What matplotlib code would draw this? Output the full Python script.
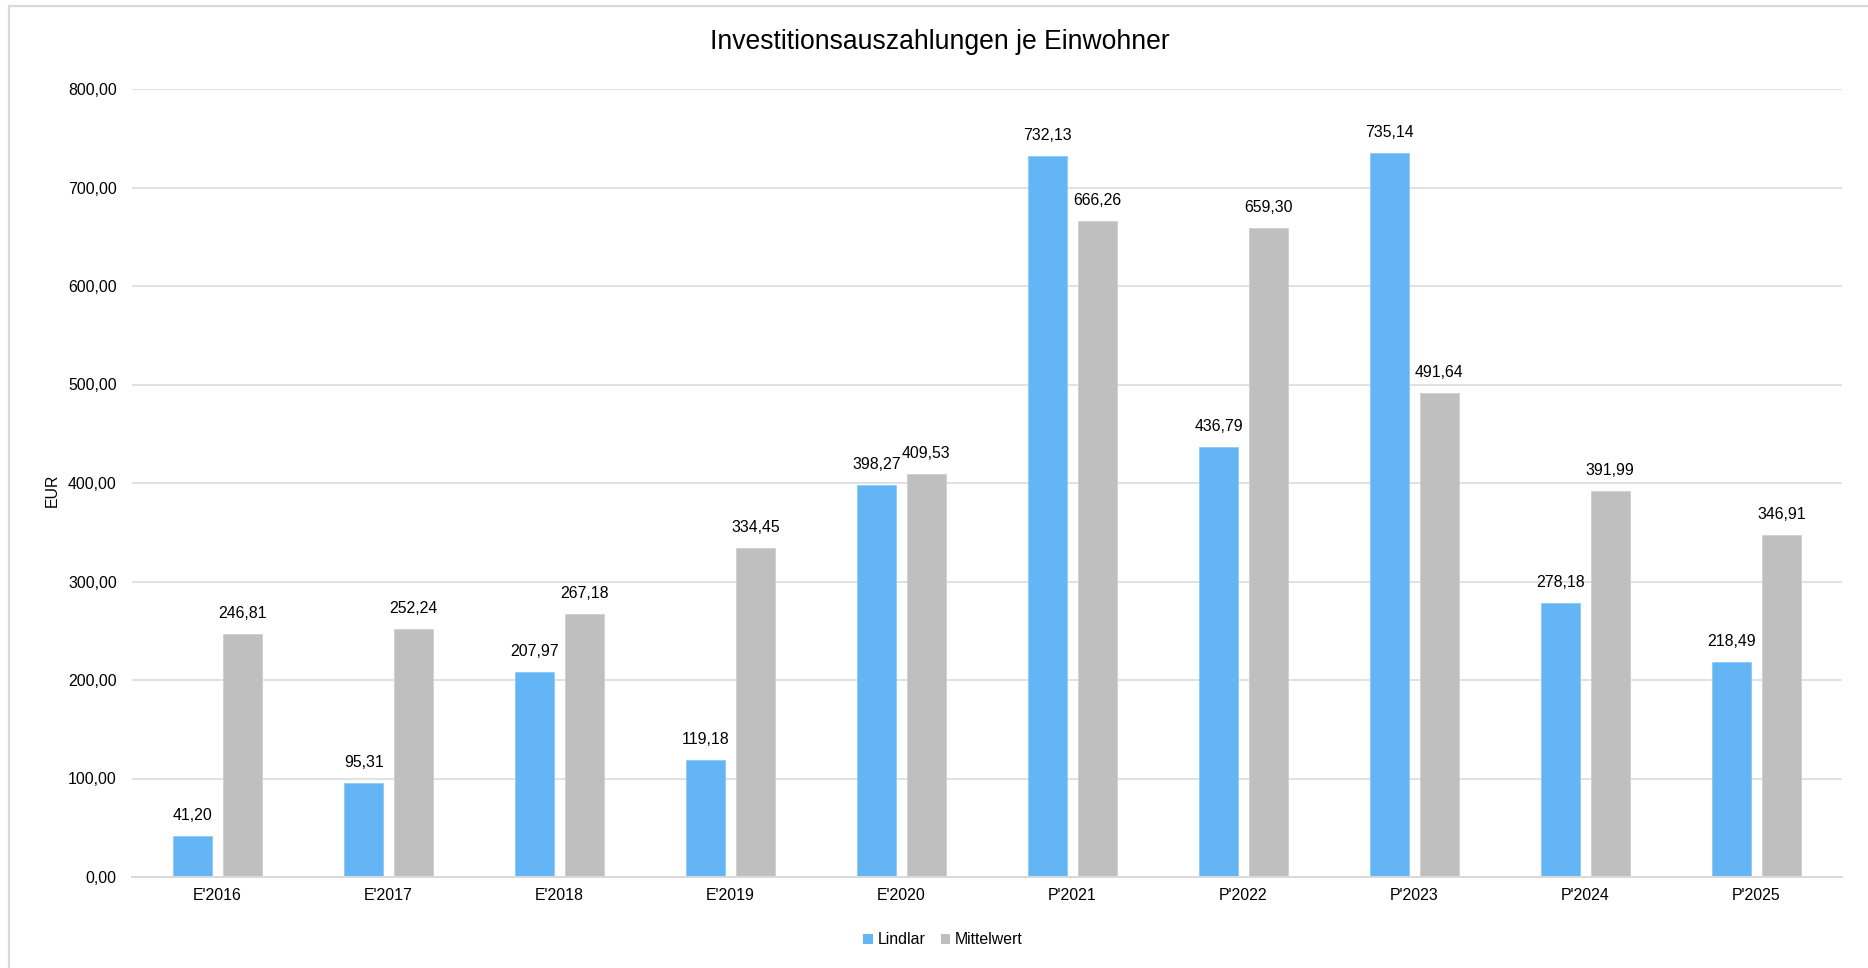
import matplotlib
matplotlib.use("Agg")
import matplotlib.pyplot as plt
from matplotlib.lines import Line2D
from matplotlib.patches import Patch
from matplotlib.ticker import FuncFormatter
import numpy as np

categories = ["E'2016", "E'2017", "E'2018", "E'2019", "E'2020",
              "P'2021", "P'2022", "P'2023", "P'2024", "P'2025"]
lindlar = [41.20, 95.31, 207.97, 119.18, 398.27, 732.13, 436.79, 735.14, 278.18, 218.49]
mittelwert = [246.81, 252.24, 267.18, 334.45, 409.53, 666.26, 659.30, 491.64, 391.99, 346.91]
series_names = ["Lindlar", "Mittelwert"]
title = "Investitionsauszahlungen je Einwohner"
ylabel = "EUR"

plt.rcParams['font.family'] = ['Liberation Sans', 'DejaVu Sans']

W, H = 1868, 968
fig = plt.figure(figsize=(W / 100, H / 100), dpi=100)
ax = fig.add_axes([132 / W, 1 - 877 / H, (1842 - 132) / W, (877 - 89) / H])

blue = "#64B5F6"
gray = "#BFBFBF"
grid = "#D9D9D9"

def fmt(v):
    return f"{v:,.2f}".replace(",", "X").replace(".", ",").replace("X", ".")

x = np.arange(len(categories))
bw = 0.225
off = 0.145
b1 = ax.bar(x - off, lindlar, bw, color=blue, edgecolor="#8CC8F8", linewidth=0.6, zorder=3)
b2 = ax.bar(x + off, mittelwert, bw, color=gray, edgecolor="#CFCFCF", linewidth=0.6, zorder=3)

for bars, vals in ((b1, lindlar), (b2, mittelwert)):
    for rect, v in zip(bars, vals):
        ax.annotate(fmt(v), (rect.get_x() + rect.get_width() / 2, v),
                    xytext=(0, 11.5), textcoords="offset points",
                    ha="center", va="baseline", fontsize=11.4, color="#000000")

ax.set_ylim(0, 800)
ax.set_xlim(-0.5, len(categories) - 0.5)
ax.set_yticks(np.arange(0, 801, 100))
ax.yaxis.set_major_formatter(FuncFormatter(lambda v, p: fmt(v)))
ax.set_xticks(x)
ax.set_xticklabels(categories)
ax.tick_params(axis="both", length=0, labelsize=11.4, colors="#000000")
ax.tick_params(axis="y", pad=11)
ax.tick_params(axis="x", pad=8)
ax.grid(axis="y", color=grid, linewidth=1.1, zorder=0)
for s in ["top", "right", "left"]:
    ax.spines[s].set_visible(False)
ax.spines["bottom"].set_color(grid)
ax.spines["bottom"].set_linewidth(1.4)
ax.spines["bottom"].set_zorder(4)

fig.text(52 / W, 1 - 490 / H, ylabel, rotation=90, ha="center", va="center", fontsize=11.4)
fig.text(940 / W, 1 - 42 / H, title, ha="center", va="center", fontsize=19.1)

handles = [Patch(facecolor=blue, edgecolor="none"), Patch(facecolor=gray, edgecolor="none")]
fig.legend(handles, series_names, loc="center", bbox_to_anchor=(943 / W, 1 - 940 / H),
           ncol=2, frameon=False, fontsize=11.4, handlelength=0.6, handleheight=0.6,
           handletextpad=0.3, columnspacing=1.0)

# outer frame
fig.add_artist(Line2D([9 / W, 1.0], [1 - 6 / H, 1 - 6 / H], transform=fig.transFigure,
                      color=grid, linewidth=1.6))
fig.add_artist(Line2D([9 / W, 9 / W], [0.0, 1 - 6 / H], transform=fig.transFigure,
                      color=grid, linewidth=1.6))

fig.savefig("out.png", dpi=100, facecolor="white")
